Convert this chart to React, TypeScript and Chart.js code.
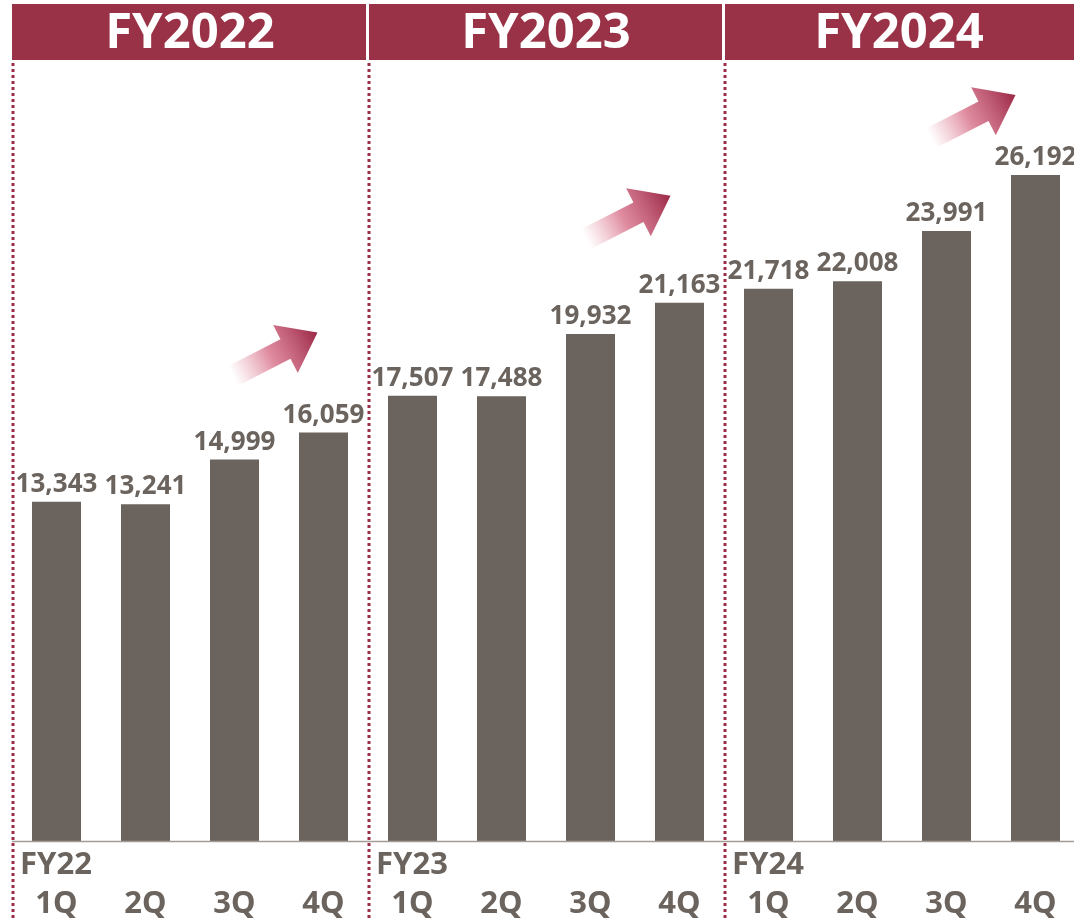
import React, { useEffect, useRef } from "react";
import { Chart, registerables } from "chart.js";

Chart.register(...registerables);

const quarters = ["1Q", "2Q", "3Q", "4Q", "1Q", "2Q", "3Q", "4Q", "1Q", "2Q", "3Q", "4Q"];
const values = [13343, 13241, 14999, 16059, 17507, 17488, 19932, 21163, 21718, 22008, 23991, 26192];
const groupHeaders = ["FY2022", "FY2023", "FY2024"];
const groupShort = ["FY22", "FY23", "FY24"];

const BAR = "#6b635d";
const MAROON = "#993246";
const FONT = "'Noto Sans', 'DejaVu Sans', sans-serif";

// arrow tip offsets relative to the 4th bar of each group (decorative)
const arrowOffsets = [
  { dx: -6, dy: -100 },
  { dx: -9, dy: -107 },
  { dx: -20, dy: -80 },
];

const fmt = (v: number) => v.toLocaleString("en-US");

const decor = {
  id: "decor",
  afterDatasetsDraw(chart: any) {
    const ctx = chart.ctx;
    const x = chart.scales.x;
    const y = chart.scales.y;
    const meta = chart.getDatasetMeta(0);
    const step = x.getPixelForValue(1) - x.getPixelForValue(0);
    const base = y.getPixelForValue(0);
    const cw = chart.width;
    ctx.save();

    // value labels
    ctx.fillStyle = BAR;
    ctx.font = `bold 26px ${FONT}`;
    ctx.textAlign = "center";
    ctx.textBaseline = "alphabetic";
    meta.data.forEach((bar: any, i: number) => {
      ctx.fillText(fmt(values[i]), bar.x, bar.y - 10);
    });

    // baseline
    const left = x.getPixelForValue(0) - step / 2;
    const right = x.getPixelForValue(quarters.length - 1) + step / 2;
    ctx.strokeStyle = "#a39b95";
    ctx.lineWidth = 1.5;
    ctx.beginPath();
    ctx.moveTo(left, base + 0.5);
    ctx.lineTo(right, base + 0.5);
    ctx.stroke();

    // header bands, dotted separators, group labels
    for (let g = 0; g < groupHeaders.length; g++) {
      const gl = x.getPixelForValue(g * 4) - step / 2;
      const gr = x.getPixelForValue(g * 4 + 3) + step / 2;
      const bl = g === 0 ? gl : gl + 1;
      const br = Math.min(gr - 2, cw);
      ctx.fillStyle = MAROON;
      ctx.fillRect(bl, 4, br - bl, 56);
      ctx.fillStyle = "#ffffff";
      ctx.font = `bold 49px ${FONT}`;
      ctx.textAlign = "center";
      ctx.textBaseline = "alphabetic";
      ctx.fillText(groupHeaders[g], (gl + gr) / 2 - (g === 2 ? 3 : 0), 48);

      ctx.strokeStyle = "#9b2d47";
      ctx.lineWidth = 3;
      ctx.setLineDash([3, 3]);
      ctx.beginPath();
      ctx.moveTo(gl + 1, 63);
      ctx.lineTo(gl + 1, 921);
      ctx.stroke();
      ctx.setLineDash([]);

      ctx.fillStyle = BAR;
      ctx.font = `bold 31px ${FONT}`;
      ctx.textAlign = "left";
      ctx.fillText(groupShort[g], gl + 8, 874);
    }

    // quarter labels
    ctx.fillStyle = BAR;
    ctx.font = `bold 31px ${FONT}`;
    ctx.textAlign = "center";
    quarters.forEach((q, i) => {
      ctx.fillText(q, x.getPixelForValue(i), 913);
    });

    // arrows
    arrowOffsets.forEach((o, g) => {
      const bar = meta.data[g * 4 + 3];
      const tx = bar.x + o.dx;
      const ty = bar.y + o.dy;
      const ang = Math.atan2(-41, 80);
      const len = 95;
      const headLen = 36;
      const headW = 27;
      const shaftW = 11;
      ctx.save();
      ctx.translate(tx, ty);
      ctx.rotate(ang);
      const grad = ctx.createLinearGradient(-len, 0, 0, 0);
      grad.addColorStop(0, "rgba(225,140,160,0)");
      grad.addColorStop(0.45, "rgba(215,110,135,0.8)");
      grad.addColorStop(1, "rgba(155,40,70,1)");
      ctx.fillStyle = grad;
      ctx.beginPath();
      ctx.moveTo(0, 0);
      ctx.lineTo(-headLen, -headW);
      ctx.lineTo(-headLen, -shaftW);
      ctx.lineTo(-len, -shaftW);
      ctx.lineTo(-len, shaftW);
      ctx.lineTo(-headLen, shaftW);
      ctx.lineTo(-headLen, headW);
      ctx.closePath();
      ctx.fill();
      ctx.restore();
    });

    ctx.restore();
  },
};

export default function App() {
  const ref = useRef<HTMLCanvasElement>(null);
  useEffect(() => {
    if (!ref.current) return;
    const chart = new Chart(ref.current, {
      type: "bar",
      data: {
        labels: quarters.map((q, i) => `${groupShort[Math.floor(i / 4)]} ${q}`),
        datasets: [
          {
            data: values,
            backgroundColor: BAR,
            categoryPercentage: 1,
            barPercentage: 49 / 89,
          },
        ],
      },
      options: {
        animation: false,
        responsive: true,
        maintainAspectRatio: false,
        layout: { padding: { left: 12, right: 12, top: 0, bottom: 80 } },
        plugins: { legend: { display: false }, tooltip: { enabled: false } },
        scales: {
          x: {
            display: false,
            offset: true,
          },
          y: {
            display: false,
            min: 0,
            max: 33070,
          },
        },
      },
      plugins: [decor],
    });
    return () => chart.destroy();
  }, []);

  return (
    <div style={{ position: "absolute", left: 0, top: 0, width: 1074, height: 921, overflow: "hidden", background: "#fff" }}>
      <div style={{ position: "relative", width: 1092, height: 921 }}>
        <canvas ref={ref} />
      </div>
    </div>
  );
}
